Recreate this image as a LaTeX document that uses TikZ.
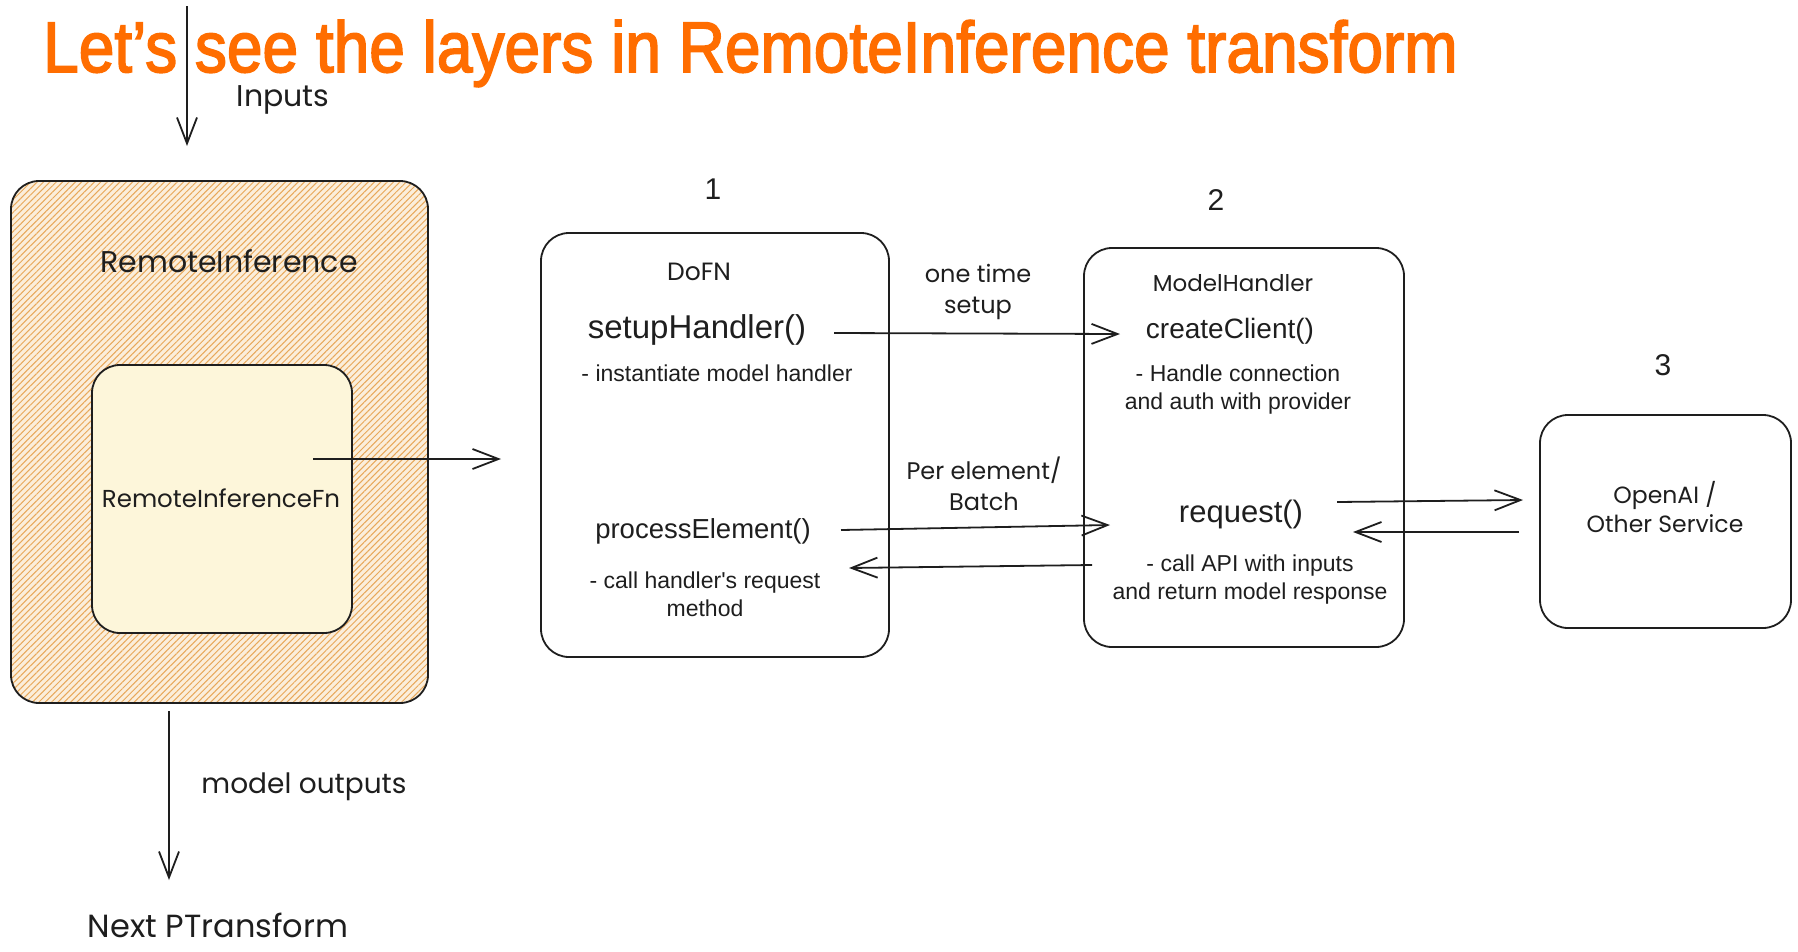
\documentclass[tikz,border=0pt]{standalone}
\usepackage{fontspec}
\setmainfont{Liberation Sans}
\newfontfamily\hand{Poppins}
\newfontfamily\titlefont[FakeBold=2.5]{Liberation Sans}
\usetikzlibrary{arrows.meta,patterns.meta}
\definecolor{ink}{HTML}{1E1E1E}
\definecolor{titleorange}{HTML}{FF6D00}
\definecolor{hatchc}{HTML}{E8A85A}
\definecolor{hatchbg}{HTML}{FBEEDB}
\definecolor{innerfill}{HTML}{FDF6DA}
\tikzset{
  box/.style={draw=ink, line width=1.8pt, rounded corners=28pt, inner sep=0pt},
  handtxt/.style={font=\hand\fontsize{24}{30}\selectfont, text=ink, align=center, inner sep=0pt},
  methodtxt/.style={font=\fontsize{30}{36}\selectfont, text=ink, inner sep=0pt},
  desctxt/.style={font=\fontsize{23}{28}\selectfont, text=ink, align=center, inner sep=0pt},
  numtxt/.style={font=\fontsize{30}{36}\selectfont, text=ink, inner sep=0pt},
  arr/.style={draw=ink, line width=1.8pt, -{Straight Barb[length=26pt,width=20pt,line width=1.8pt]}}
}
\begin{document}
\begin{tikzpicture}[x=1pt,y=-1pt]
\useasboundingbox (0,0) rectangle (1798,951);

% title
\node[anchor=base west, inner sep=0pt, text=titleorange, font=\titlefont\fontsize{64}{70}\selectfont] (title) at (43,72) {\scalebox{1}[1.12]{Let’s see the layers in RemoteInference transform}};

% boxes
\node[box, minimum width=417pt, minimum height=522pt, preaction={fill=hatchbg}, pattern={Lines[angle=45,distance=4.5pt,line width=1pt]}, pattern color=hatchc] (ri) at (219.5,442) {};
\node[box, fill=innerfill, minimum width=260pt, minimum height=268pt] (rifn) at (222,499) {};
\node[box, minimum width=348pt, minimum height=424pt] (dofn) at (715,445) {};
\node[box, minimum width=320pt, minimum height=399pt] (mh) at (1244,447.5) {};
\node[box, minimum width=251pt, minimum height=213pt] (oai) at (1665.5,521.5) {};

% hand-written labels
\node[handtxt, font=\hand\fontsize{30}{34}\selectfont] (inputs) at (283,100) {Inputs};
\node[handtxt, font=\hand\fontsize{30}{34}\selectfont] (riLabel) at (229,261) {RemoteInference};
\node[handtxt, font=\hand\fontsize{24.5}{30}\selectfont] (rifnLabel) at (221,498) {RemoteInferenceFn};
\node[handtxt, font=\hand\fontsize{25}{30}\selectfont] (dofnLabel) at (699,272) {DoFN};
\node[handtxt, font=\hand\fontsize{23}{28}\selectfont] (mhLabel) at (1233,283) {ModelHandler};
\node[handtxt, font=\hand\fontsize{24}{31}\selectfont] (setupLbl) at (978,292) {one time\\setup};
\node[handtxt, font=\hand\fontsize{24}{31}\selectfont] (batchLbl) at (984,484) {Per element/\\Batch};
\node[handtxt, font=\hand\fontsize{23.5}{29}\selectfont] (oaiLabel) at (1665,507) {OpenAI /\\Other Service};
\node[handtxt, font=\hand\fontsize{28}{32}\selectfont] (outLbl) at (304,787) {model outputs};
\node[handtxt, font=\hand\fontsize{32}{36}\selectfont] (next) at (218,925) {Next PTransform};

% numbers
\node[numtxt] (n1) at (713,189) {1};
\node[numtxt] (n2) at (1216,200) {2};
\node[numtxt] (n3) at (1663,365) {3};

% methods and descriptions
\node[methodtxt, font=\fontsize{33}{38}\selectfont] (setup) at (697,330) {setupHandler()};
\node[desctxt] (setupDesc) at (717,373) {- instantiate model handler};
\node[methodtxt, font=\fontsize{27.5}{33}\selectfont] (proc) at (703,531) {processElement()};
\node[desctxt] (procDesc) at (705,594) {- call handler\textquotesingle s request\\method};
\node[methodtxt, font=\fontsize{28}{33}\selectfont] (create) at (1230,331) {createClient()};
\node[desctxt] (createDesc) at (1238,390) {- Handle connection\\and auth with provider};
\node[methodtxt, font=\fontsize{31}{36}\selectfont] (req) at (1241,514) {request()};
\node[desctxt] (reqDesc) at (1250,580) {- call API with inputs\\and return model response};

% connector end points
\coordinate (inTop) at (187,6);
\coordinate (inTip) at (187,146);
\coordinate (fnStart) at (313,459);
\coordinate (fnTip) at (501,459);
\coordinate (outTop) at (169,711);
\coordinate (outTip) at (169,880);
\coordinate (setupStart) at (834,333);
\coordinate (setupTip) at (1120,334);
\coordinate (procStart) at (841,530);
\coordinate (procTip) at (1110,525);
\coordinate (retStart) at (1092,565);
\coordinate (retTip) at (849,568);
\coordinate (reqStart) at (1337,502);
\coordinate (reqTip) at (1523,500);
\coordinate (svcStart) at (1519,532);
\coordinate (svcTip) at (1353,532);

% connectors
\draw[arr] (inTop) -- (inTip);
\draw[arr] (fnStart) -- (fnTip);
\draw[arr] (outTop) -- (outTip);
\draw[arr] (setupStart) -- (setupTip);
\draw[arr] (procStart) -- (procTip);
\draw[arr] (retStart) -- (retTip);
\draw[arr] (reqStart) -- (reqTip);
\draw[arr] (svcStart) -- (svcTip);
\end{tikzpicture}
\end{document}
